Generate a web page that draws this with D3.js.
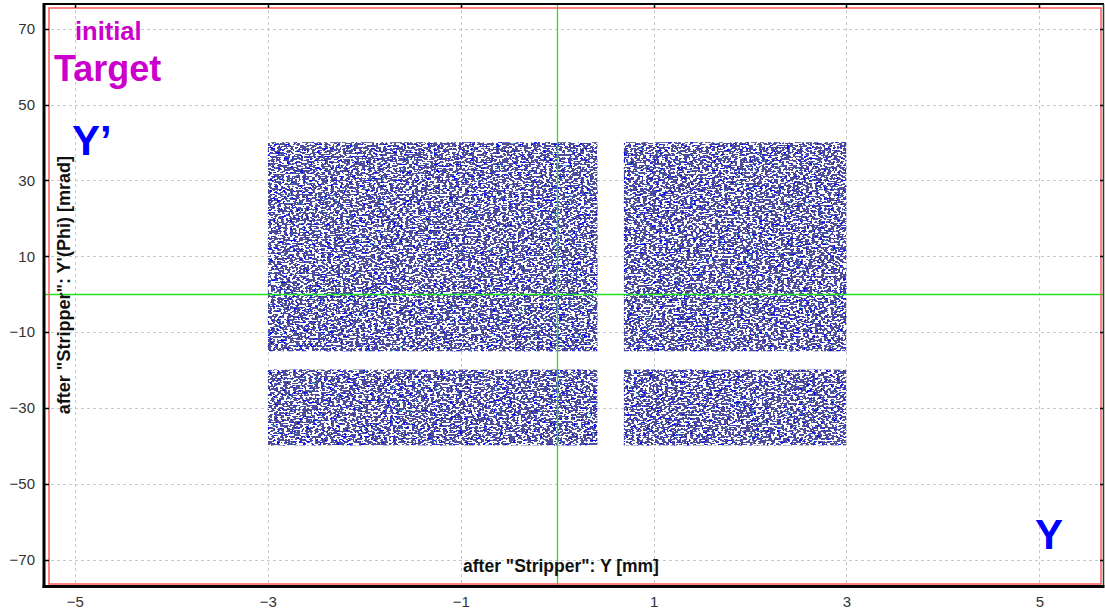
<!DOCTYPE html>
<html>
<head>
<meta charset="utf-8">
<script src="https://cdn.jsdelivr.net/npm/d3@7"></script>
<style>
  html, body { margin: 0; padding: 0; background: #fff; }
  svg { display: block; font-family: Arial, "Liberation Sans", sans-serif; }
</style>
</head>
<body>
<svg id="chart" width="1105" height="613"></svg>
<script>
// Phase-space bounds after the stripper: Y [mm] bands and Y' [mrad] bands.
const yBands = [[-3.0, 0.42], [0.69, 3.0]];
const phiBands = [[-15.1, 40.1], [-39.9, -19.8]];

// Axis ticks
const xTicks = [-5, -3, -1, 1, 3, 5];
const yTicks = [-70, -50, -30, -10, 10, 30, 50, 70];

// Axis extents
const xDomain = [-5.31, 5.66];
const yDomain = [-76.9, 76.5];

const W = 1105, H = 613;
const frame = { left: 45, right: 1103, top: 4, bottom: 586 };

const svg = d3.select("#chart");
const x = d3.scaleLinear().domain(xDomain).range([frame.left, frame.right]);
const y = d3.scaleLinear().domain(yDomain).range([frame.bottom, frame.top]);

// Speckle texture for the particle clouds
const defs = svg.append("defs");
const f = defs.append("filter").attr("id", "speck")
  .attr("x", 0).attr("y", 0).attr("width", 1).attr("height", 1)
  .attr("color-interpolation-filters", "sRGB");
function layer(seed, freq, channelRow, table, color, name) {
  f.append("feTurbulence").attr("type", "fractalNoise")
    .attr("baseFrequency", freq).attr("numOctaves", 1).attr("seed", seed)
    .attr("result", name + "N");
  f.append("feColorMatrix").attr("in", name + "N").attr("type", "matrix")
    .attr("values", "0 0 0 0 0  0 0 0 0 0  0 0 0 0 0  " + channelRow)
    .attr("result", name + "A");
  const ct = f.append("feComponentTransfer").attr("in", name + "A").attr("result", name + "M");
  ct.append("feFuncA").attr("type", "discrete").attr("tableValues", table);
  f.append("feFlood").attr("flood-color", color).attr("result", name + "F");
  f.append("feComposite").attr("in", name + "F").attr("in2", name + "M")
    .attr("operator", "in").attr("result", name);
}
// threshold tables: 40 steps, ones mark the values that light up
const tbl = k => Array.from({ length: 40 }, (_, i) => (i >= k ? 1 : 0)).join(" ");
layer(7, "0.3 0.5", "1 0 0 0 0", tbl(25), "#0a0aff", "blue");
layer(19, "0.32 0.55", "0 1 0 0 0", tbl(21), "#ffffff", "white");
layer(31, "0.4 0.6", "0 0 1 0 0", tbl(29), "#40c8e8", "cyan");
const merge = f.append("feMerge").attr("result", "all");
merge.append("feMergeNode").attr("in", "SourceGraphic");
merge.append("feMergeNode").attr("in", "blue");
merge.append("feMergeNode").attr("in", "cyan");
merge.append("feMergeNode").attr("in", "white");
f.append("feComposite").attr("in", "all").attr("in2", "SourceGraphic").attr("operator", "in");

// Grid
const grid = svg.append("g")
  .attr("stroke", "#c8c8c8").attr("stroke-width", 1).attr("stroke-dasharray", "3,3");
grid.selectAll("line.gx").data(xTicks).join("line")
  .attr("x1", d => Math.round(x(d)) + 0.5).attr("x2", d => Math.round(x(d)) + 0.5)
  .attr("y1", frame.top).attr("y2", frame.bottom);
grid.selectAll("line.gy").data(yTicks).join("line")
  .attr("y1", d => Math.round(y(d)) + 0.5).attr("y2", d => Math.round(y(d)) + 0.5)
  .attr("x1", frame.left).attr("x2", frame.right);

// Particle clouds
const cells = [];
yBands.forEach(bx => phiBands.forEach(by => cells.push({ bx, by })));
svg.append("g").selectAll("rect").data(cells).join("rect")
  .attr("x", d => x(d.bx[0])).attr("width", d => x(d.bx[1]) - x(d.bx[0]))
  .attr("y", d => y(d.by[1])).attr("height", d => y(d.by[0]) - y(d.by[1]))
  .attr("fill", "#4d4d9a")
  .attr("filter", "url(#speck)");

// Zero crosshair
svg.append("line")
  .attr("x1", Math.round(x(0)) + 0.5).attr("x2", Math.round(x(0)) + 0.5)
  .attr("y1", frame.top).attr("y2", frame.bottom)
  .attr("stroke", "#22e022").attr("stroke-width", 1.3);
svg.append("line")
  .attr("y1", Math.round(y(0)) + 0.5).attr("y2", Math.round(y(0)) + 0.5)
  .attr("x1", frame.left).attr("x2", frame.right)
  .attr("stroke", "#22e022").attr("stroke-width", 1.3);

// Inner red border
svg.append("rect")
  .attr("x", frame.left + 4).attr("y", frame.top + 4)
  .attr("width", frame.right - frame.left - 6).attr("height", frame.bottom - frame.top - 6)
  .attr("fill", "none").attr("stroke", "#ff5a5a").attr("stroke-width", 1.5);

// Outer black frame
svg.append("line").attr("x1", frame.left - 1.5).attr("x2", frame.right + 1)
  .attr("y1", frame.top).attr("y2", frame.top).attr("stroke", "#000").attr("stroke-width", 2);
svg.append("line").attr("x1", frame.right + 0.5).attr("x2", frame.right + 0.5)
  .attr("y1", frame.top).attr("y2", frame.bottom).attr("stroke", "#333").attr("stroke-width", 1.5);
svg.append("line").attr("x1", frame.left - 1).attr("x2", frame.left - 1)
  .attr("y1", frame.top - 1).attr("y2", frame.bottom + 2).attr("stroke", "#000").attr("stroke-width", 3);
svg.append("line").attr("x1", frame.left - 2.5).attr("x2", frame.right + 1.5)
  .attr("y1", frame.bottom + 0.5).attr("y2", frame.bottom + 0.5).attr("stroke", "#000").attr("stroke-width", 3);

// Axes
const axisBottom = d3.axisBottom(x).tickValues(xTicks).tickSize(0).tickPadding(6);
const axisLeft = d3.axisLeft(y).tickValues(yTicks).tickSize(0).tickPadding(8);
const gx = svg.append("g").attr("transform", `translate(0,${frame.bottom + 2})`).call(axisBottom);
const gy = svg.append("g").attr("transform", `translate(${frame.left - 2},0)`).call(axisLeft);
[gx, gy].forEach(g => {
  g.select(".domain").remove();
  g.selectAll("text").attr("font-size", 15).attr("fill", "#333")
    .attr("font-family", "Arial, 'Liberation Sans', sans-serif");
});
gx.selectAll("text").attr("dy", "0.71em").attr("y", 8);

// Small inward tick marks on the frame
const tk = svg.append("g").attr("stroke", "#000").attr("stroke-width", 1.5);
tk.selectAll("line.l").data(yTicks).join("line")
  .attr("x1", frame.left).attr("x2", frame.left + 4)
  .attr("y1", d => Math.round(y(d)) + 0.5).attr("y2", d => Math.round(y(d)) + 0.5);
tk.selectAll("line.r").data(yTicks).join("line")
  .attr("x1", frame.right - 3).attr("x2", frame.right)
  .attr("y1", d => Math.round(y(d)) + 0.5).attr("y2", d => Math.round(y(d)) + 0.5);
tk.selectAll("line.t").data(xTicks).join("line")
  .attr("y1", frame.top).attr("y2", frame.top + 4)
  .attr("x1", d => Math.round(x(d)) + 0.5).attr("x2", d => Math.round(x(d)) + 0.5);

// Axis titles
svg.append("text")
  .attr("x", 561).attr("y", 572)
  .attr("text-anchor", "middle").attr("font-size", 17.5).attr("font-weight", "bold").attr("fill", "#111")
  .text('after "Stripper": Y [mm]');
svg.append("text")
  .attr("transform", `translate(70,${y(2.4)}) rotate(-90)`)
  .attr("text-anchor", "middle").attr("font-size", 18).attr("font-weight", "bold").attr("fill", "#111")
  .text("after \"Stripper\": Y'(Phi) [mrad]");

// Annotations
svg.append("text").attr("x", 75).attr("y", 40)
  .attr("font-size", 25.5).attr("font-weight", "bold").attr("fill", "#cc00cc").text("initial");
svg.append("text").attr("x", 54).attr("y", 81)
  .attr("font-size", 36).attr("font-weight", "bold").attr("fill", "#cc00cc").text("Target");
svg.append("text").attr("x", 72).attr("y", 155)
  .attr("font-size", 42).attr("font-weight", "bold").attr("fill", "#0000ff").text("Y\u2019");
svg.append("text").attr("x", 1035).attr("y", 549)
  .attr("font-size", 42).attr("font-weight", "bold").attr("fill", "#0000ff").text("Y");
</script>
</body>
</html>
